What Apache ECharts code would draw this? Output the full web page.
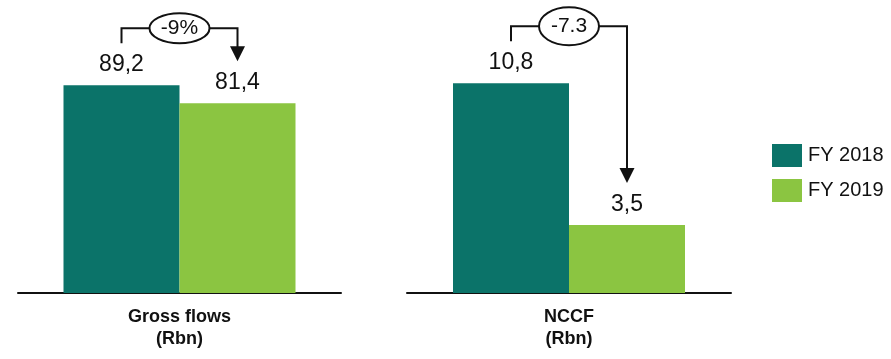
<!DOCTYPE html>
<html>
<head>
<meta charset="utf-8">
<script src="https://cdn.jsdelivr.net/npm/echarts@6/dist/echarts.min.js"></script>
<style>
  html, body { margin: 0; padding: 0; background: #fff; }
  #chart { width: 891px; height: 359px; }
</style>
</head>
<body>
<div id="chart"></div>
<script>
// Two panels, each with its own value scale
const categories = ['Gross flows\n(Rbn)', 'NCCF\n(Rbn)'];
const fy2018 = [89.2, 10.8];
const fy2019 = [81.4, 3.5];
const changeLabels = ['-9%', '-7.3'];
const axisMax = [100, 12];
const seriesNames = ['FY 2018', 'FY 2019'];

const DARK = '#0b7369';
const LIGHT = '#8bc541';
const FONT = '"Liberation Sans", Arial, sans-serif';
const BAR_W = 116;

const fmt = v => v.toFixed(1).replace('.', ',');

const grids = [
  { left: 18, width: 323, top: 60, height: 233 },
  { left: 407, width: 324, top: 60, height: 233 }
];

const xAxes = categories.map((c, i) => ({
  type: 'category', gridIndex: i, data: [c],
  axisLine: { lineStyle: { color: '#111', width: 2 } },
  axisTick: { show: false },
  axisLabel: { fontFamily: FONT, fontWeight: 'bold', fontSize: 18, color: '#111',
               lineHeight: 22, margin: 13 }
}));
const yAxes = categories.map((c, i) => ({
  type: 'value', gridIndex: i, min: 0, max: axisMax[i], show: false,
  splitLine: { show: false }
}));

const series = [];
categories.forEach((c, i) => {
  [fy2018, fy2019].forEach((arr, k) => {
    series.push({
      name: seriesNames[k], type: 'bar', xAxisIndex: i, yAxisIndex: i,
      data: [arr[i]], barWidth: BAR_W, barGap: '0%',
      itemStyle: { color: k === 0 ? DARK : LIGHT },
      label: { show: true, position: 'top', distance: 9, formatter: p => fmt(p.value),
               fontFamily: FONT, fontSize: 23, color: '#111' },
      emphasis: { disabled: true }, animation: false
    });
  });
});

const chart = echarts.init(document.getElementById('chart'));
chart.setOption({
  backgroundColor: '#fff',
  animation: false,
  grid: grids,
  xAxis: xAxes,
  yAxis: yAxes,
  legend: {
    data: seriesNames, orient: 'vertical', left: 767, top: 139,
    itemWidth: 30, itemHeight: 23, itemGap: 12, icon: 'rect',
    textStyle: { fontFamily: FONT, fontSize: 20, color: '#111', padding: [0, 0, 0, 1] }
  },
  series: series
});

// Change brackets drawn above each pair of bars
const graphics = [];
categories.forEach((c, i) => {
  const p0 = chart.convertToPixel({ xAxisIndex: i, yAxisIndex: i }, [0, fy2018[i]]);
  const p1 = chart.convertToPixel({ xAxisIndex: i, yAxisIndex: i }, [0, fy2019[i]]);
  const xL = p0[0] - BAR_W / 2;
  const xR = p0[0] + BAR_W / 2;
  const topY = Math.min(p0[1], p1[1]);
  const yH = topY - 57;
  const yLeftEnd = p0[1] - 42;
  const yTip = p1[1] - 42;
  const cx = (xL + xR) / 2;
  const rx = 30, ry = i === 0 ? 15 : 19;
  const stroke = { stroke: '#111', lineWidth: 2, fill: null };
  graphics.push({ type: 'polyline', shape: { points: [[xL, yLeftEnd], [xL, yH], [cx - rx, yH]] }, style: stroke, silent: true });
  graphics.push({ type: 'polyline', shape: { points: [[cx + rx, yH], [xR, yH], [xR, yTip - 14]] }, style: stroke, silent: true });
  graphics.push({ type: 'polygon', shape: { points: [[xR - 7.5, yTip - 15], [xR + 7.5, yTip - 15], [xR, yTip]] }, style: { fill: '#111' }, silent: true });
  graphics.push({ type: 'ellipse', shape: { cx: cx, cy: yH, rx: rx, ry: ry }, style: { fill: '#fff', stroke: '#111', lineWidth: 2 }, silent: true });
  graphics.push({ type: 'text', x: cx, y: yH, style: { text: changeLabels[i], font: '21px ' + FONT, fill: '#111', textAlign: 'center', textVerticalAlign: 'middle' }, silent: true });
});
chart.setOption({ graphic: graphics });
</script>
</body>
</html>
